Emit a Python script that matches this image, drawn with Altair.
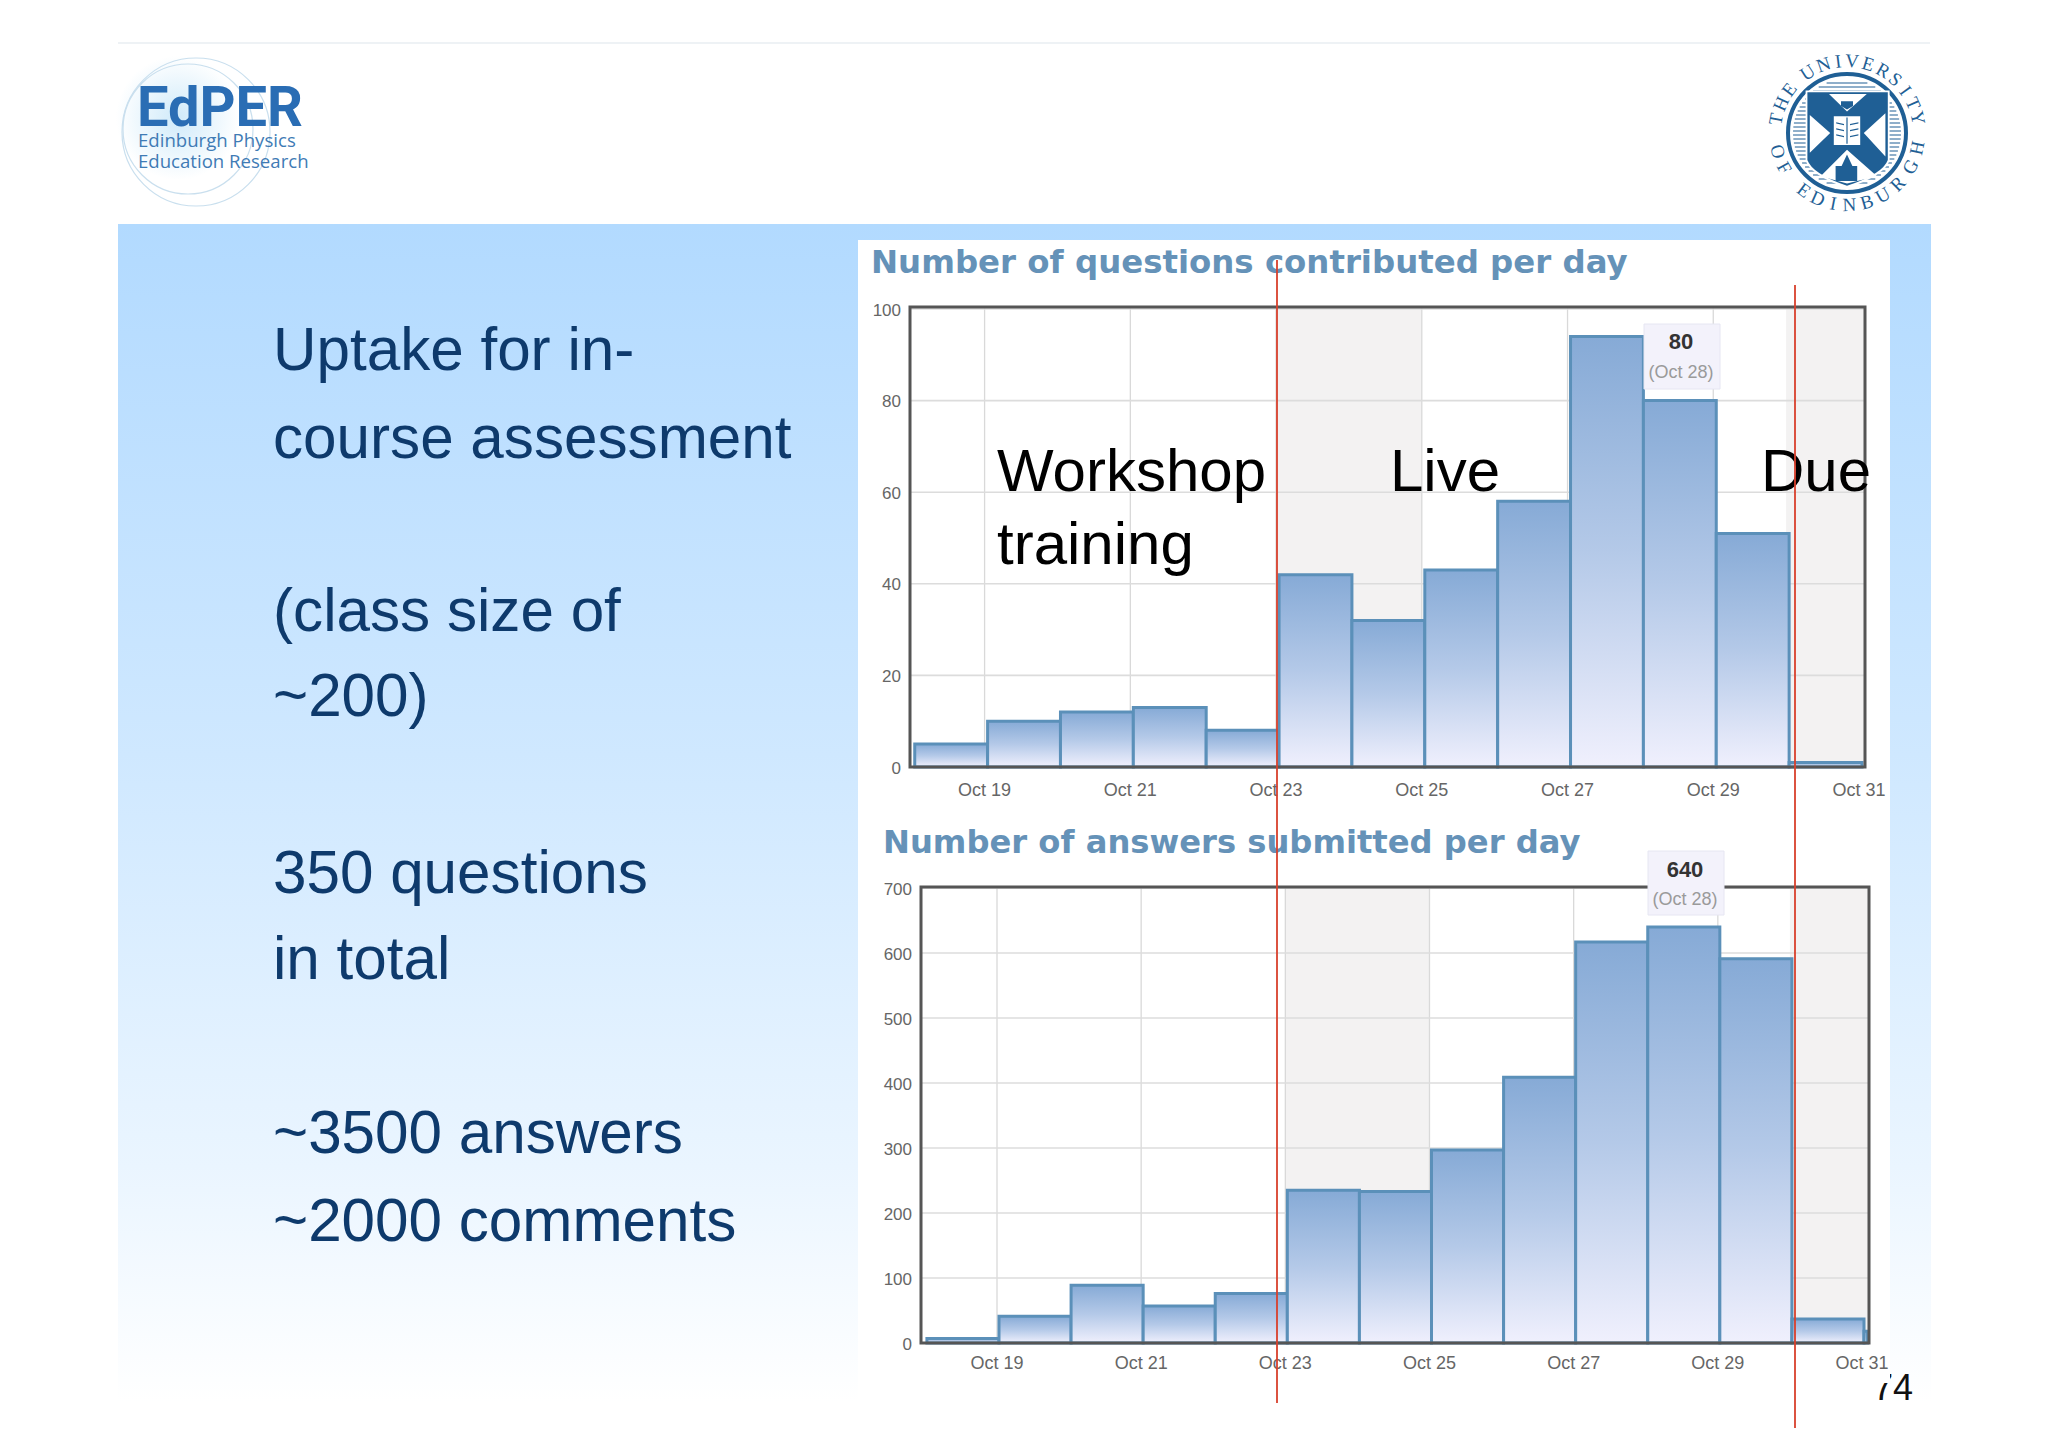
import math
import altair as alt
import pandas as pd

# ---------- chart values ----------
DAYS_Q = [18, 19, 20, 21, 22, 23, 24, 25, 26, 27, 28, 29, 30]
QUESTIONS = [5, 10, 12, 13, 8, 42, 32, 43, 58, 94, 80, 51, 1]
DAYS_A = [18, 19, 20, 21, 22, 23, 24, 25, 26, 27, 28, 29, 30, 31]
ANSWERS = [7, 41, 89, 57, 76, 235, 233, 297, 409, 617, 640, 591, 37, 18]
TICK_DAYS = [19, 21, 23, 25, 27, 29, 31]
TICK_LABELS = ["Oct 19", "Oct 21", "Oct 23", "Oct 25", "Oct 27", "Oct 29", "Oct 31"]
Q_TICKS = [0, 20, 40, 60, 80, 100]
A_TICKS = [0, 100, 200, 300, 400, 500, 600, 700]
SHADE_START = [23, 30]
SHADE_END = [25, 31.08]
SHADE_END_A = [25, 31.1]
AXIS_END_A = 31.05

LEFT_LINES = ["Uptake for in-", "course assessment", "(class size of", "~200)",
              "350 questions", "in total", "~3500 answers", "~2000 comments"]
LEFT_BASE = [370, 458, 631, 716, 893, 979, 1153, 1241]

OFF = 8
W, H = 2030, 1425


def px(v):
    return v - OFF


def one():
    return pd.DataFrame({"a": [0]})


def box(x0, y0, x1, y1, **kw):
    return alt.Chart(one()).mark_rect(**kw).encode(
        x=alt.value(px(x0)), x2=alt.value(px(x1)), y=alt.value(px(y0)), y2=alt.value(px(y1)))


def line(x0, y0, x1, y1, **kw):
    return alt.Chart(one()).mark_rule(**kw).encode(
        x=alt.value(px(x0)), x2=alt.value(px(x1)), y=alt.value(px(y0)), y2=alt.value(px(y1)))


def label(txt, x, y, **kw):
    kw.setdefault("baseline", "alphabetic")
    kw.setdefault("align", "left")
    kw.setdefault("font", "Liberation Sans")
    return alt.Chart(one()).mark_text(text=txt, **kw).encode(x=alt.value(px(x)), y=alt.value(px(y)))


def symbol(cx, cy, r, shape="circle", **kw):
    return alt.Chart(one()).mark_point(shape=shape, size=(2 * r) ** 2, opacity=1, **kw).encode(
        x=alt.value(px(cx)), y=alt.value(px(cy)))


def grad(*stops):
    return alt.LinearGradient(
        gradient="linear", x1=0, x2=0, y1=0, y2=1,
        stops=[alt.GradientStop(color=c, offset=o) for o, c in stops])


def panel(days, vals, y_ticks, xdom, xrng, ydom, yrng, left, right, top, bottom,
          ylab_x, xlab_y, ylab_dy, bar_off, shade_end, x_end):
    sx = alt.Scale(domain=xdom, range=[px(v) for v in xrng], nice=False, zero=False)
    sy = alt.Scale(domain=ydom, range=[px(v) for v in yrng], nice=False, zero=False)
    X = lambda f: alt.X(f, type="quantitative", scale=sx, axis=None)
    Y = lambda f: alt.Y(f, type="quantitative", scale=sy, axis=None)
    out = []
    shade = pd.DataFrame({"s": SHADE_START, "e": shade_end})
    out.append(alt.Chart(shade).mark_rect(color="#f3f2f2").encode(
        x=X("s"), x2="e", y=alt.value(px(top)), y2=alt.value(px(bottom))))
    tick_x = pd.DataFrame({"d": TICK_DAYS[:-1], "t": TICK_LABELS[:-1]})
    out.append(alt.Chart(tick_x).mark_rule(color="#d9d9d9", strokeWidth=1.3).encode(
        x=X("d"), y=alt.value(px(top)), y2=alt.value(px(bottom))))
    tick_y = pd.DataFrame({"v": y_ticks, "t": [str(v) for v in y_ticks]})
    out.append(alt.Chart(tick_y).mark_rule(color="#dcdcdc", strokeWidth=1.6).encode(
        y=Y("v"), x=alt.value(px(left)), x2=alt.value(px(right))))
    bars = pd.DataFrame({"d": days, "e": [min(d + 1, x_end) for d in days], "v": vals,
                         "z": [0] * len(days)})
    out.append(alt.Chart(bars).mark_rect(
        fill=grad((0, "#86aad6"), (0.5, "#b4c9e8"), (1, "#f0f0fd")),
        stroke="#5b90b9", strokeWidth=3, xOffset=bar_off, x2Offset=bar_off).encode(
        x=X("d"), x2="e", y=Y("v"), y2="z"))
    out.append(box(left, top, right, bottom, fillOpacity=0, stroke="#555555", strokeWidth=3))
    ticks_all = pd.DataFrame({"d": TICK_DAYS, "t": TICK_LABELS})
    out.append(alt.Chart(ticks_all).mark_text(
        font="Liberation Sans", fontSize=18, color="#666666", baseline="middle", align="center").encode(
        x=X("d"), y=alt.value(px(xlab_y)), text="t:N"))
    out.append(alt.Chart(tick_y).mark_text(
        font="Liberation Sans", fontSize=17, color="#666666", baseline="middle", align="right",
        dy=ylab_dy).encode(y=Y("v"), x=alt.value(px(ylab_x)), text="t:N"))
    return out


layers = []

# ---------- slide furniture ----------
layers.append(line(118, 43, 1930, 43, color="#e9eef2", strokeWidth=1.5))
layers.append(box(118, 224, 1931, 1402,
                  fill=grad((0, "#b2daff"), (0.45, "#cfe8ff"), (0.8, "#eaf5ff"), (1, "#ffffff"))))
layers.append(box(858, 240, 1890, 1406, color="#ffffff"))
layers.append(label("74", 1913, 1400, fontSize=36, color="#111111", align="right"))
layers.append(box(1866, 1368, 1890, 1383, color="#ffffff"))

# ---------- EdPER logo ----------
layers.append(symbol(178, 118, 62, fill=alt.RadialGradient(
    gradient="radial", r1=0, r2=0.5, x1=0.5, y1=0.5, x2=0.5, y2=0.5,
    stops=[alt.GradientStop(color="#cfeafa", offset=0), alt.GradientStop(color="#ffffff", offset=1)]),
    stroke=None))
layers.append(symbol(196, 132, 74, fill=None, stroke="#c9dfee", strokeWidth=1.2))
layers.append(symbol(188, 129, 65, fill=None, stroke="#c9dfee", strokeWidth=1.2))
layers.append(label("EdPER", 137, 126, fontSize=56, fontWeight="bold",
                    font="Roboto", color="#2a6db4"))
layers.append(label("Edinburgh Physics", 138, 147, fontSize=18.6, font="Open Sans", color="#3f7bb5"))
layers.append(label("Education Research", 138, 168, fontSize=18.6, font="Open Sans", color="#3f7bb5"))

# ---------- university crest ----------
CREST = "#1f5f95"
CX, CY = 1847, 133
layers.append(symbol(CX, CY, 59, fill="#ffffff", stroke=CREST, strokeWidth=4))
for dy in range(-50, 52, 4):
    half = math.sqrt(max(54 ** 2 - dy ** 2, 0))
    layers.append(line(CX - half, CY + dy, CX + half, CY + dy, color=CREST, strokeWidth=1))
layers.append(symbol(CX, CY, 60, shape="M-.69 -.71 L.71 -.71 L.71 .46 Q.63 .71 0 .92 Q-.61 .71 -.69 .46 Z",
                     fill="#ffffff", stroke=None))
layers.append(symbol(CX, CY, 60, shape="M-.66 -.68 L.68 -.68 L.68 .45 Q.6 .68 0 .88 Q-.58 .68 -.66 .45 Z",
                     fill=CREST, stroke=None))
layers.append(symbol(CX, CY, 60,
                     shape="M-.62 -.3 L-.28 0 L-.62 .33 Z M.64 -.33 L.28 0 L.64 .39 Z "
                           "M-.3 -.65 L0 -.36 L.33 -.65 Z M-.44 .72 L0 .28 L.5 .72 L0 .84 Z "
                           "M-.22 -.28 L.22 -.28 L.22 .2 L-.22 .2 Z",
                     fill="#ffffff", stroke=None))
layers.append(symbol(CX, CY, 60,
                     shape="M-.19 .55 L-.09 .55 L0 .36 L.09 .55 L.17 .55 L.17 .8 L-.19 .8 Z "
                           "M-.1 -.53 L.1 -.53 L.1 -.45 L0 -.39 L-.1 -.45 Z "
                           "M-.01 -.26 L.01 -.26 L.01 .18 L-.01 .18 Z "
                           "M-.18 -.18 L-.05 -.15 L-.05 -.13 L-.18 -.16 Z M-.18 -.08 L-.05 -.05 L-.05 -.03 L-.18 -.06 Z "
                           "M-.18 .02 L-.05 .05 L-.05 .07 L-.18 .04 Z M.05 -.15 L.19 -.18 L.19 -.16 L.05 -.13 Z "
                           "M.05 -.05 L.19 -.08 L.19 -.06 L.05 -.03 Z M.05 .05 L.19 .02 L.19 .04 L.05 .07 Z",
                     fill=CREST, stroke=None))
CREST_TOP = list("THEUNIVERSITY")
CREST_TOP_ANG = [-79, -66, -53, -33, -19, -7, 4, 17, 30, 42, 54, 66, 78]
CREST_BOT = list("OFEDINBURGH")
CREST_BOT_ANG = [255, 241, 217, 204, 191, 178, 164, 150, 135, 118, 102]
rows = []
for ch, a in zip(CREST_TOP, CREST_TOP_ANG):
    t = math.radians(a)
    rows.append({"c": ch, "px": px(CX + 72 * math.sin(t)), "py": px(CY - 72 * math.cos(t)), "ang": a % 360})
for ch, a in zip(CREST_BOT, CREST_BOT_ANG):
    t = math.radians(a)
    rows.append({"c": ch, "px": px(CX + 72 * math.sin(t)), "py": px(CY - 72 * math.cos(t)), "ang": (a - 180) % 360})
layers.append(alt.Chart(pd.DataFrame(rows)).mark_text(
    font="Liberation Serif", fontSize=19, color=CREST, baseline="middle", align="center").encode(
    x=alt.X("px:Q", scale=None, axis=None), y=alt.Y("py:Q", scale=None, axis=None),
    text="c:N", angle=alt.Angle("ang:Q", scale=None)))

# ---------- left text ----------
left = pd.DataFrame({"t": LEFT_LINES, "b": [px(v) for v in LEFT_BASE]})
layers.append(alt.Chart(left).mark_text(
    font="Liberation Sans", fontSize=60.2, color="#0e3a6c", align="left", baseline="alphabetic").encode(
    x=alt.value(px(273)), y=alt.Y("b:Q", scale=None, axis=None), text="t:N"))

# ---------- chart titles ----------
layers.append(label("Number of questions contributed per day", 871, 273, fontSize=32.4,
                    font="DejaVu Sans", fontWeight="bold", color="#6592b8"))
layers.append(label("Number of answers submitted per day", 883, 853, fontSize=32.2,
                    font="DejaVu Sans", fontWeight="bold", color="#6592b8"))

# ---------- the two bar charts ----------
layers += panel(DAYS_Q, QUESTIONS, Q_TICKS, [19, 31], [984.6, 1859], [0, 100], [767, 309],
                910, 1865, 307, 767, 901, 791, 1.5, 3, SHADE_END, 32)
layers += panel(DAYS_A, ANSWERS, A_TICKS, [19, 31], [997, 1862], [0, 700], [1343, 888],
                921, 1869, 887, 1343, 912, 1364, 1.5, 2, SHADE_END_A, AXIS_END_A)

# ---------- highlight labels ----------
for x0, y0, x1, y1, cx, ya, yb, big in [
    (1644, 324, 1720, 389, 1681, 342, 373, "80"),
    (1648, 851, 1724, 915, 1685, 870, 900, "640"),
]:
    layers.append(box(x0, y0, x1, y1, fill="#f3f2fb", stroke="#e6e6f2", strokeWidth=1))
    layers.append(label(big, cx, ya, fontSize=22, fontWeight="bold", color="#333333",
                        align="center", baseline="middle"))
    layers.append(label("(Oct 28)", cx, yb, fontSize=18, color="#9a9a9a",
                        align="center", baseline="middle"))

# ---------- annotations ----------
layers.append(label("Workshop", 997, 491, fontSize=60, color="#000000"))
layers.append(label("training", 997, 564, fontSize=60, color="#000000"))
layers.append(label("Live", 1390, 491, fontSize=60, color="#000000"))
layers.append(label("Due", 1761, 491, fontSize=60, color="#000000"))
layers.append(line(1277, 260, 1277, 1403, color="#d8402c", strokeWidth=1.8))
layers.append(line(1795, 285, 1795, 1428, color="#d8402c", strokeWidth=1.8))

chart = alt.layer(*layers).resolve_scale(x="independent", y="independent").properties(
    width=W, height=H, padding=0, autosize=alt.AutoSizeParams(type="none"),
    background="#ffffff").configure_view(stroke=None)

chart.save("out.html", embed_options={"renderer": "svg", "actions": False})
